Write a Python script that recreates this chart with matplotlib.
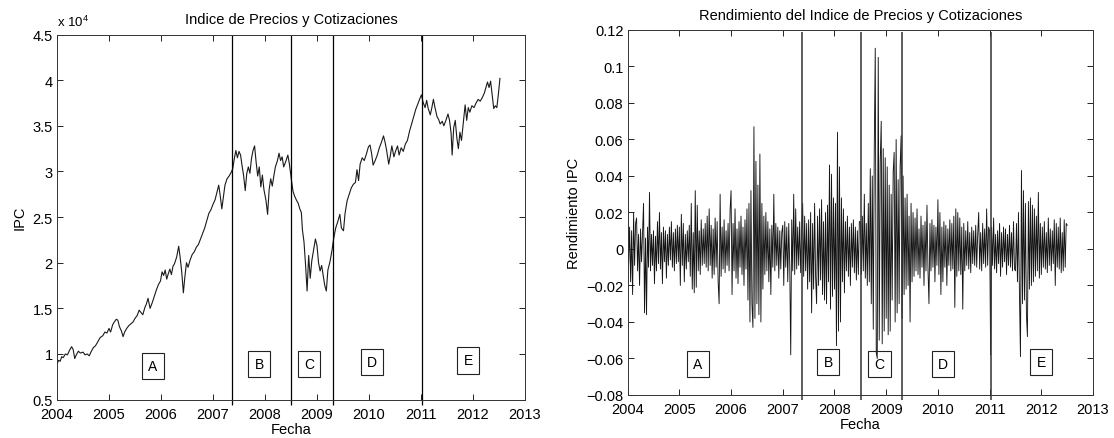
import numpy as np
import matplotlib.pyplot as plt
from matplotlib.ticker import FuncFormatter

plt.rcParams['font.family'] = ['Liberation Sans', 'DejaVu Sans']
plt.rcParams['mathtext.fontset'] = 'custom'
plt.rcParams['mathtext.rm'] = 'Liberation Sans'

# Data: IPC index
price_dates = [
    2004.00, 2004.03, 2004.06, 2004.09, 2004.12, 2004.16, 2004.20, 2004.24, 2004.28, 2004.31,
    2004.34, 2004.37, 2004.41, 2004.45, 2004.50, 2004.54, 2004.58, 2004.62, 2004.66, 2004.70,
    2004.74, 2004.78, 2004.83, 2004.88, 2004.92, 2004.96, 2005.00, 2005.03, 2005.07, 2005.10,
    2005.14, 2005.17, 2005.20, 2005.24, 2005.27, 2005.30, 2005.34, 2005.38, 2005.42, 2005.46,
    2005.50, 2005.54, 2005.58, 2005.62, 2005.65, 2005.69, 2005.72, 2005.75, 2005.79, 2005.83,
    2005.87, 2005.91, 2005.95, 2005.99, 2006.02, 2006.05, 2006.08, 2006.11, 2006.14, 2006.17,
    2006.20, 2006.23, 2006.26, 2006.30, 2006.34, 2006.37, 2006.40, 2006.43, 2006.46, 2006.49,
    2006.52, 2006.56, 2006.60, 2006.64, 2006.68, 2006.72, 2006.76, 2006.80, 2006.84, 2006.88,
    2006.92, 2006.96, 2007.00, 2007.04, 2007.08, 2007.11, 2007.14, 2007.17, 2007.20, 2007.23,
    2007.27, 2007.31, 2007.35, 2007.38, 2007.41, 2007.44, 2007.47, 2007.50, 2007.53, 2007.56,
    2007.59, 2007.62, 2007.65, 2007.68, 2007.71, 2007.74, 2007.77, 2007.80, 2007.83, 2007.86,
    2007.89, 2007.92, 2007.95, 2007.98, 2008.02, 2008.05, 2008.08, 2008.11, 2008.14, 2008.17,
    2008.20, 2008.24, 2008.27, 2008.30, 2008.33, 2008.36, 2008.40, 2008.44, 2008.47, 2008.51,
    2008.54, 2008.57, 2008.61, 2008.64, 2008.67, 2008.70, 2008.72, 2008.75, 2008.78, 2008.81,
    2008.84, 2008.87, 2008.90, 2008.94, 2008.97, 2009.00, 2009.03, 2009.06, 2009.09, 2009.12,
    2009.15, 2009.18, 2009.21, 2009.25, 2009.29, 2009.32, 2009.36, 2009.40, 2009.44, 2009.47,
    2009.51, 2009.54, 2009.58, 2009.62, 2009.66, 2009.70, 2009.74, 2009.77, 2009.80, 2009.83,
    2009.87, 2009.91, 2009.95, 2009.99, 2010.02, 2010.05, 2010.08, 2010.12, 2010.16, 2010.20,
    2010.24, 2010.28, 2010.31, 2010.34, 2010.38, 2010.41, 2010.44, 2010.48, 2010.51, 2010.55,
    2010.58, 2010.62, 2010.66, 2010.70, 2010.74, 2010.78, 2010.82, 2010.86, 2010.90, 2010.94,
    2010.98, 2011.01, 2011.04, 2011.08, 2011.11, 2011.14, 2011.18, 2011.21, 2011.24, 2011.27,
    2011.31, 2011.34, 2011.37, 2011.41, 2011.44, 2011.48, 2011.52, 2011.55, 2011.58, 2011.60,
    2011.63, 2011.66, 2011.69, 2011.72, 2011.75, 2011.78, 2011.82, 2011.85, 2011.88, 2011.91,
    2011.94, 2011.98, 2012.02, 2012.06, 2012.10, 2012.14, 2012.18, 2012.22, 2012.25, 2012.28,
    2012.31, 2012.34, 2012.37, 2012.40, 2012.43, 2012.46, 2012.49, 2012.52,
]
price_vals = [
    8900, 9300, 9200, 9700, 9600, 10000, 9900, 10400, 10800, 10500,
    9500, 9900, 10300, 10100, 10200, 9900, 10000, 9800, 10300, 10700,
    10900, 11300, 11800, 12000, 12400, 12300, 12800, 12400, 13200, 13500,
    13800, 13700, 13000, 12500, 11900, 12400, 12800, 13100, 13300, 13500,
    13900, 14200, 14800, 14500, 14300, 15100, 15500, 16100, 15000, 15600,
    16300, 17000, 17600, 18000, 19000, 18600, 19200, 18200, 18800, 19300,
    18700, 19600, 19900, 20600, 21800, 20500, 18900, 16700, 18500, 20000,
    19500, 20300, 20900, 21200, 21700, 22000, 22600, 23200, 23800, 24600,
    25400, 25800, 26400, 26900, 27800, 28500, 27300, 25900, 27200, 28500,
    29200, 29500, 29900, 30300, 31400, 32300, 31500, 32200, 31800, 30600,
    29500, 27900, 29800, 30500, 29800, 31400, 32300, 32800, 31000, 29500,
    30500, 28300, 29600, 28000, 26800, 25300, 28000, 29200, 28400, 29500,
    30500, 31200, 32000, 31200, 31600, 30500, 31100, 31800, 30800, 29000,
    27800, 27300, 26800, 26500, 25900, 25500, 23600, 22300, 19800, 16900,
    20800, 18300, 20200, 21600, 22600, 21900, 20000, 19100, 19700, 18600,
    17500, 16900, 19200, 20100, 21400, 22600, 23800, 24500, 25300, 23800,
    23500, 25400, 26800, 27500, 28200, 28600, 28800, 30200, 29000, 30800,
    31500, 31200, 31900, 32700, 32900, 32000, 30700, 31200, 31800, 32600,
    33200, 33900, 33200, 32300, 30800, 31700, 32800, 31600, 32200, 32800,
    31800, 32600, 32200, 33000, 33400, 34400, 35200, 36000, 36800, 37400,
    38000, 38400, 37600, 37000, 37800, 36900, 36200, 37000, 37900, 37000,
    36000, 35700, 35200, 35500, 35000, 35600, 36300, 35600, 34200, 31800,
    34800, 35600, 33700, 32500, 34300, 33400, 35600, 37300, 35600, 37000,
    36500, 37200, 37000, 37500, 37900, 37700, 38100, 38600, 39200, 39800,
    39200, 39900, 38400, 36900, 37200, 37000, 38500, 40200,
]

# Weekly returns of IPC, in thousandths, starting 2004
ret_milli = [
    27, -8, 12, -18, 10, -25, 20, -9, 14, 17, -12, 8, -20, 11, -7, 9, 25, -35, 6, -36, 12, -10, 31, -12, 8, -9,
    10, -19, 7, -12, 15, -8, 20, -11, 9, -19, 12, -7, 10, -16, 8, -9, 12, -6, 15, -10, 9, -12, 11, -8, 13, -7,
    12, -20, 19, -9, 14, -18, 8, -11, 10, -7, 13, -15, 25, -22, 9, -24, 32, -21, 24, -12, 10, -14, 16, -9, 11, -8,
    14, -10, 18, -12, 22, -9, 13, -16, 11, -14, 17, -10, 15, -18, -30, 30, -15, 12, -11, 16, -13, 10, -9, 14, -12, 21,
    32, -25, 14, -12, 22, -16, 11, -19, 15, -10, 18, -14, 12, -20, 16, -11, 22, -28, 25, -40, 32, -30, -43, 67, -38, 48,
    -30, 35, -36, 52, -40, 25, -22, 18, -14, 20, -12, 15, -18, 11, -25, 13, -10, 30, -12, 14, -9, 12, -16, 10, -11, 9,
    13, -20, 15, -10, 12, -18, 14, -9, -58, 16, -12, 30, -14, 22, -11, 12, -9, 15, -13, 10, 25, -15, 18, -12, 14, -22,
    16, -18, 20, -35, 14, -22, 25, -15, -30, 18, -20, 22, -17, 27, -25, 15, -28, 20, -30, 24, -18, 46, -33, 41, -26, 28,
    -22, 25, -53, 64, -45, 45, -40, 28, -18, 22, -24, 15, -12, 18, -15, 12, -20, 14, -10, 16, -13, 12, -17, 10, -14, 15,
    15, -14, 18, -12, 30, -16, 14, -20, 25, -18, 44, -30, 40, -44, 55, 110, -57, -60, 105, -50, 48, 70, -52, 55, -45, 50,
    -38, 45, -47, 35, -45, 30, -28, 42, 53, -40, 60, -35, 38, -30, 45, 62, -38, 40, -25, 28, -22, 30, -20, 18, -40, 25,
    -18, 20, -15, 17, -12, 22, -14, 11, -16, 18, -10, 13, -20, 15, -12, 24, -11, -30, 14, -12, 16, -10, 13, -18, 12, -9,
    27, -14, 20, -25, 12, -18, 15, -10, 13, -20, 11, -9, 16, -12, 14, -11, 18, -32, 22, -15, 20, -12, 17, -14, 12, -33,
    14, -12, 10, -9, 15, -11, 9, -13, 12, -8, 10, -9, 13, -10, 8, 20, -11, 9, -12, 14, -8, 11, -10, 22, -9, 12,
    10, -58, 12, -9, 17, -11, 8, -13, 10, -8, 14, -15, 9, -10, 12, -7, 11, -14, 8, -9, 13, -10, 9, -12, 15, -11,
    -12, 14, -18, 20, -25, -59, 43, -30, 32, -28, 25, -36, -48, 26, -22, 28, -20, 24, -18, 22, -15, 18, -12, 31, -16, 14,
    -14, 12, -10, 15, -11, 9, -13, 17, -9, 11, -12, 10, -8, 16, -20, 14, -10, 12, -11, 17, -13, 9, -12, 16, -10, 14, 13,
]

# Period boundaries and labels
breaks = [2007.37, 2008.51, 2009.31, 2011.02]
period_labels = ['A', 'B', 'C', 'D', 'E']
label_x_left = [2005.84, 2007.89, 2008.85, 2010.06, 2011.91]
label_y_left = [8700, 8900, 8900, 9100, 9300]
label_x_right = [2005.36, 2007.88, 2008.87, 2010.10, 2012.00]
label_y_right = [-0.063, -0.062, -0.063, -0.063, -0.062]

ret = np.array(ret_milli) / 1000.0
ret_dates = 2004 + np.arange(len(ret)) / 52.0

fig = plt.figure(figsize=(11.14, 4.39), dpi=100)
ax1 = fig.add_axes([0.0512, 0.0875, 0.420, 0.8314])
ax2 = fig.add_axes([0.5634, 0.098, 0.4178, 0.8314])

box = dict(boxstyle='square,pad=0.45', fc='none', ec='#222222', lw=0.8)

# Left: price index
ax1.plot(price_dates, price_vals, color='#1a1a1a', lw=0.8)
ax1.vlines(breaks, 4400, 45000, color='black', lw=0.9, clip_on=False)
for lab, x, y in zip(period_labels, label_x_left, label_y_left):
    ax1.text(x, y, lab, ha='center', va='center', fontsize=10, bbox=box)
ax1.set_xlim(2004, 2013)
ax1.set_ylim(5000, 45000)
ax1.set_yticks(np.arange(5000, 45001, 5000))
ax1.yaxis.set_major_formatter(FuncFormatter(lambda v, p: '%g' % (v / 1e4)))
ax1.text(0.0, 1.015, r'x 10$^{4}$', transform=ax1.transAxes, fontsize=9.5,
         ha='left', va='bottom')
ax1.set_title('Indice de Precios y Cotizaciones', fontsize=10.5, pad=8)
ax1.set_ylabel('IPC', fontsize=10.5)

# Right: returns
ax2.plot(ret_dates, ret, color='#151515', lw=0.65)
ax2.vlines(breaks, -0.0825, 0.119, color='#333333', lw=1.1, clip_on=False)
for lab, x, y in zip(period_labels, label_x_right, label_y_right):
    ax2.text(x, y, lab, ha='center', va='center', fontsize=10, bbox=box)
ax2.set_xlim(2004, 2013)
ax2.set_ylim(-0.08, 0.12)
ax2.set_yticks(np.arange(-0.08, 0.1201, 0.02))
ax2.yaxis.set_major_formatter(
    FuncFormatter(lambda v, p: ('%g' % round(v, 2)).replace('-', '\u2212')))
ax2.set_title('Rendimiento del Indice de Precios y Cotizaciones', fontsize=10.5, pad=8)
ax2.set_ylabel('Rendimiento IPC', fontsize=10.5)

for ax in (ax1, ax2):
    ax.set_xticks(range(2004, 2014))
    ax.set_xlabel('Fecha', fontsize=10.5, labelpad=1)
    ax.tick_params(direction='in', top=True, right=True, length=4, width=0.6,
                   labelsize=10.5)
    ax.tick_params(axis='x', pad=5)
    ax.tick_params(axis='y', pad=3)
    for s in ax.spines.values():
        s.set_linewidth(0.7)
        s.set_color('#333333')

fig.savefig('out.png', dpi=100)
